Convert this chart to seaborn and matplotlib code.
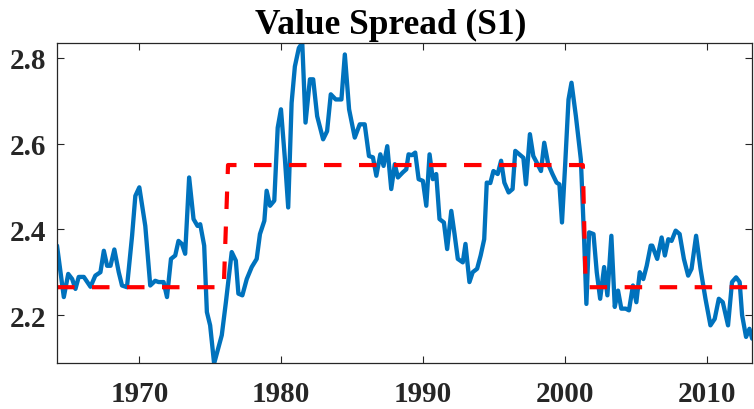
"""
Value spread (S1) with regime means, MATLAB-like styling.
"""
import matplotlib
matplotlib.use("Agg")
import matplotlib.pyplot as plt
import seaborn as sns
import pandas as pd

# blue series: (year, spread) vertices
years = [1964.2, 1964.68, 1964.99, 1965.27, 1965.5, 1965.73, 1966.09, 1966.56, 1966.9,
         1967.26, 1967.5, 1967.73, 1967.97, 1968.24, 1968.55, 1968.78, 1969.13, 1969.49,
         1969.72, 1970.0, 1970.42, 1970.77, 1971.12, 1971.36, 1971.71, 1971.95, 1972.23,
         1972.53, 1972.76, 1973.0, 1973.23, 1973.51, 1973.82, 1974.1, 1974.29, 1974.57,
         1974.76, 1974.99, 1975.27, 1975.81, 1976.1, 1976.51, 1976.8, 1976.98, 1977.26,
         1977.57, 1977.92, 1978.27, 1978.5, 1978.81, 1978.97, 1979.21, 1979.51, 1979.75,
         1979.98, 1980.26, 1980.49, 1980.73, 1980.96, 1981.24, 1981.48, 1981.71, 1982.02,
         1982.25, 1982.53, 1982.95, 1983.23, 1983.49, 1983.84, 1984.24, 1984.48, 1984.78,
         1985.18, 1985.53, 1985.88, 1986.18, 1986.46, 1986.7, 1986.98, 1987.21, 1987.47,
         1987.75, 1988.0, 1988.22, 1988.57, 1988.81, 1988.97, 1989.2, 1989.44, 1989.68,
         1989.98, 1990.22, 1990.45, 1990.68, 1990.92, 1991.15, 1991.46, 1991.69, 1991.98,
         1992.21, 1992.44, 1992.79, 1992.98, 1993.26, 1993.49, 1993.8, 1994.05, 1994.3,
         1994.48, 1994.73, 1994.95, 1995.25, 1995.49, 1995.72, 1996.02, 1996.3, 1996.49,
         1996.77, 1997.06, 1997.24, 1997.52, 1997.76, 1998.06, 1998.3, 1998.53, 1998.81,
         1999.11, 1999.4, 1999.6, 1999.78, 2000.0, 2000.24, 2000.45, 2000.76, 2001.11,
         2001.34, 2001.5, 2001.69, 2002.0, 2002.23, 2002.47, 2002.75, 2002.98, 2003.26,
         2003.5, 2003.73, 2003.96, 2004.27, 2004.5, 2004.78, 2005.02, 2005.26, 2005.51,
         2005.75, 2006.03, 2006.14, 2006.49, 2006.8, 2007.03, 2007.27, 2007.5, 2007.79,
         2008.07, 2008.37, 2008.67, 2008.91, 2009.23, 2009.54, 2009.89, 2010.24, 2010.54,
         2010.83, 2011.11, 2011.48, 2011.76, 2012.05, 2012.3, 2012.47, 2012.75, 2012.99,
         2013.18]
spread = [2.362, 2.242, 2.296, 2.284, 2.261, 2.289, 2.289, 2.266, 2.292,
          2.300, 2.350, 2.315, 2.315, 2.353, 2.300, 2.269, 2.265, 2.385,
          2.478, 2.498, 2.408, 2.269, 2.280, 2.277, 2.277, 2.242, 2.331,
          2.339, 2.373, 2.366, 2.343, 2.521, 2.424, 2.408, 2.412, 2.362,
          2.207, 2.176, 2.087, 2.153, 2.230, 2.347, 2.327, 2.250, 2.246,
          2.284, 2.312, 2.331, 2.389, 2.420, 2.490, 2.455, 2.467, 2.637,
          2.680, 2.563, 2.451, 2.695, 2.780, 2.823, 2.835, 2.649, 2.750,
          2.750, 2.664, 2.610, 2.629, 2.715, 2.703, 2.703, 2.808, 2.680,
          2.614, 2.645, 2.645, 2.571, 2.568, 2.525, 2.575, 2.548, 2.594,
          2.494, 2.552, 2.521, 2.533, 2.540, 2.575, 2.573, 2.579, 2.517,
          2.513, 2.455, 2.575, 2.517, 2.529, 2.424, 2.416, 2.354, 2.443,
          2.389, 2.331, 2.323, 2.366, 2.277, 2.300, 2.308, 2.339, 2.377,
          2.509, 2.508, 2.536, 2.529, 2.560, 2.509, 2.486, 2.494, 2.583,
          2.575, 2.567, 2.505, 2.622, 2.571, 2.552, 2.536, 2.602, 2.552,
          2.529, 2.509, 2.505, 2.416, 2.548, 2.703, 2.742, 2.664, 2.563,
          2.377, 2.226, 2.393, 2.389, 2.300, 2.238, 2.312, 2.246, 2.385,
          2.219, 2.257, 2.215, 2.215, 2.211, 2.269, 2.230, 2.300, 2.284,
          2.315, 2.362, 2.362, 2.331, 2.381, 2.339, 2.377, 2.373, 2.397,
          2.389, 2.331, 2.292, 2.308, 2.385, 2.308, 2.238, 2.176, 2.191,
          2.238, 2.230, 2.176, 2.277, 2.288, 2.277, 2.200, 2.149, 2.168,
          2.145]

# red dashed regime means
regime_years = [1964.2, 1975.95, 1976.25, 2001.25, 2001.45, 2013.2]
regime_mean = [2.265, 2.265, 2.55, 2.55, 2.265, 2.265]

x_ticks = [1970, 1980, 1990, 2000, 2010]
y_ticks = [2.2, 2.4, 2.6, 2.8]

sns.set_style("ticks")
plt.rcParams['font.family'] = ['Liberation Serif', 'DejaVu Serif']
plt.rcParams['font.weight'] = 'bold'

fig = plt.figure(figsize=(7.54, 4.10), dpi=100)
ax = fig.add_axes([0.0756, 0.112, 0.9214, 0.781])

df = pd.DataFrame({'year': years, 'spread': spread})
reg = pd.DataFrame({'year': regime_years, 'mean': regime_mean})

sns.lineplot(data=df, x='year', y='spread', ax=ax, color='#0072BD', lw=3.1, sort=False)
sns.lineplot(data=reg, x='year', y='mean', ax=ax, color='#FF0000', lw=3.0,
             sort=False, dashes=False, linestyle=(0, (4.2, 4.2)))

ax.set_xlim(1964.2, 2013.15)
ax.set_ylim(2.088, 2.835)
ax.set_xticks(x_ticks)
ax.set_yticks(y_ticks)
ax.set_xlabel('')
ax.set_ylabel('')
ax.set_title('Value Spread (S1)', fontsize=25.5, fontweight='bold', color='black',
             x=0.481, y=1.0, pad=7)

ax.tick_params(direction='in', length=5, width=0.8, top=True, right=True,
               labelsize=21, colors='#262626', labelcolor='#262626')
ax.tick_params(axis='x', pad=12)
ax.tick_params(axis='y', pad=8)
for lbl in ax.get_xticklabels() + ax.get_yticklabels():
    lbl.set_fontweight('bold')
for s in ax.spines.values():
    s.set_visible(True)
    s.set_linewidth(0.9)
    s.set_color('#262626')

fig.savefig('out.png', dpi=100)
